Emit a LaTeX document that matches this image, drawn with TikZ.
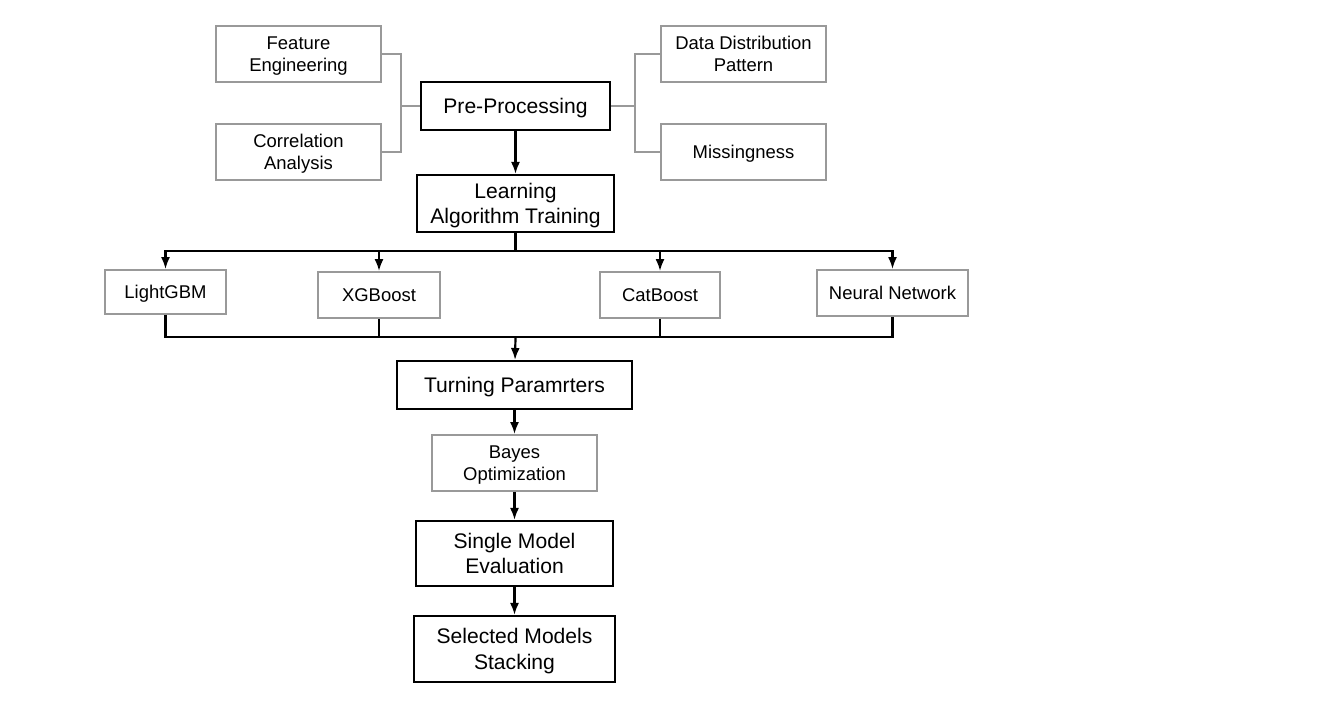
\documentclass[tikz,border=0pt]{standalone}
\usepackage{fontspec}
\setmainfont{Liberation Sans}
\usetikzlibrary{arrows.meta}

\begin{document}
\begin{tikzpicture}
		[x=0.2mm,y=-0.2mm,>={Latex[length=2.4mm,width=1.8mm]},
		 mainbox/.style={draw=black,line width=1.15pt,inner sep=0pt,text depth=0pt,align=center,font=\fontsize{12}{14.5}\selectfont},
		 subbox/.style={draw=black!40,line width=1pt,inner sep=0pt,text depth=0pt,align=center,font=\fontsize{10.5}{12.5}\selectfont},
		 flow/.style={black,line width=1.25pt},
		 side/.style={black!40,line width=1pt}]

        \useasboundingbox (0,0) rectangle (1321,713);

        % pre-processing and its parts
        \node[mainbox,minimum width=37.8mm,minimum height=9.6mm] (pre) at (515.5,106) {Pre-Processing};
        \node[subbox,minimum width=33mm,minimum height=11.2mm] (feat) at (298.5,54) {Feature\\Engineering};
        \node[subbox,minimum width=33mm,minimum height=11.2mm] (corr) at (298.5,152) {Correlation\\Analysis};
        \node[subbox,minimum width=33mm,minimum height=11.2mm] (dist) at (743.5,54) {Data Distribution\\Pattern};
        \node[subbox,minimum width=33mm,minimum height=11.2mm] (miss) at (743.5,152) {Missingness};

        \coordinate (GL) at (401,106);
        \coordinate (GR) at (635,106);
        \draw[side] (feat.east) -| (GL);
        \draw[side] (corr.east) -| (GL);
        \draw[side] (GL) -- (pre.west);
        \draw[side] (pre.east) -- (GR);
        \draw[side] (GR) |- (dist.west);
        \draw[side] (GR) |- (miss.west);

        % training
        \node[mainbox,minimum width=39.4mm,minimum height=11.4mm] (learn) at (515.5,203.5) {Learning\\Algorithm Training};
        \draw[flow,->] (pre) -- (learn);

        \node[subbox,minimum width=24.2mm,minimum height=8.8mm] (lgbm) at (165.5,292) {LightGBM};
        \node[subbox,minimum width=24.4mm,minimum height=9.2mm] (xgb) at (379,295) {XGBoost};
        \node[subbox,minimum width=24mm,minimum height=9.2mm] (cat) at (660,295) {CatBoost};
        \node[subbox,minimum width=30.2mm,minimum height=9.2mm] (nn) at (892.5,293) {Neural Network};

        \coordinate (B1) at (515.5,251);
        \coordinate (B2) at (515.5,337);
        \draw[flow] (learn) -- (B1);
        \foreach \model in {lgbm,xgb,cat,nn}  {
            \draw[flow,->] (B1) -| (\model.north);
            \draw[flow] (\model.south) |- (B2);
        }

        % tuning and evaluation
        \node[mainbox,minimum width=47mm,minimum height=9.6mm] (tune) at (514.5,385) {Turning Paramrters};
        \node[subbox,minimum width=33mm,minimum height=11.2mm] (bayes) at (514.5,463) {Bayes\\Optimization};
        \node[mainbox,minimum width=39.4mm,minimum height=13mm] (single) at (514.5,553.5) {Single Model\\Evaluation};
        \node[mainbox,minimum width=40.2mm,minimum height=13.2mm] (stack) at (514.5,649) {Selected Models\\Stacking};

        \draw[flow,->] (B2) -- (tune);
        \draw[flow,->] (tune) -- (bayes);
        \draw[flow,->] (bayes) -- (single);
        \draw[flow,->] (single) -- (stack);

    \end{tikzpicture}
\end{document}
